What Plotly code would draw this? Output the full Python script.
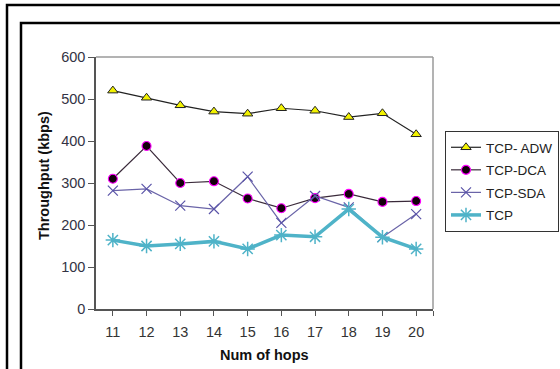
import plotly.graph_objects as go

# Throughput (kbps) versus number of hops
hops = [11, 12, 13, 14, 15, 16, 17, 18, 19, 20]
tcp_adw = [520, 503, 485, 470, 465, 478, 472, 457, 466, 416]
tcp_dca = [310, 388, 300, 304, 263, 240, 264, 274, 255, 257]
tcp_sda = [282, 286, 246, 238, 315, 205, 269, 242, 171, 226]
tcp = [164, 150, 155, 161, 143, 176, 172, 238, 171, 143]
y_ticks = [0, 100, 200, 300, 400, 500, 600]

W, H = 560, 369
L, R, T, B = 96, 127, 57, 60
pw, ph = W - L - R, H - T - B


def px(x):
    return (x - L) / pw


def py(y):
    return (H - B - y) / ph


fig = go.Figure()

fig.add_trace(go.Scatter(
    x=hops, y=tcp_adw, name="TCP- ADW", mode="lines+markers",
    line=dict(color="#222222", width=1.2),
    marker=dict(symbol="triangle-up", size=9, color="#f2f200",
                line=dict(color="#222222", width=1)),
    legendgroup="a",
))
fig.add_trace(go.Scatter(
    x=hops, y=tcp_dca, name="TCP-DCA", mode="lines+markers",
    line=dict(color="#3a2a3a", width=1.2),
    marker=dict(symbol="circle", size=9, color="#14000c",
                line=dict(color="#ff00ff", width=1.1)),
    legendgroup="b",
))
fig.add_trace(go.Scatter(
    x=hops, y=tcp_sda, name="TCP-SDA", mode="lines+markers",
    line=dict(color="#6a64a8", width=1.2),
    marker=dict(symbol="x-thin-open", size=10, color="#5a54a8",
                line=dict(color="#5a54a8", width=1.2)),
    legendgroup="c",
))
fig.add_trace(go.Scatter(
    x=hops, y=tcp, name="TCP", mode="lines+markers",
    line=dict(color="#4fb3c8", width=3.5),
    marker=dict(symbol="asterisk-open", size=12, color="#4fb3c8",
                line=dict(color="#4fb3c8", width=1.5)),
    legendgroup="d",
))

shapes = [
    # outer and inner frames around the figure
    dict(type="rect", xref="paper", yref="paper",
         x0=px(7), x1=px(620), y0=py(5), y1=py(420),
         line=dict(color="black", width=2.5)),
    dict(type="rect", xref="paper", yref="paper",
         x0=px(21), x1=px(620), y0=py(23), y1=py(420),
         line=dict(color="black", width=2.5)),
    # top and right edges of the plot area
    dict(type="line", xref="paper", yref="paper", x0=0, x1=1, y0=1, y1=1,
         line=dict(color="#9a9a9a", width=1.5)),
    dict(type="line", xref="paper", yref="paper", x0=1, x1=1, y0=0, y1=1,
         line=dict(color="#9a9a9a", width=1.5)),
]

annotations = [
    dict(text="<b>Num of hops</b>", xref="paper", yref="paper",
         x=px(264), y=py(355), showarrow=False,
         font=dict(family="Liberation Sans, Arial", size=14.5, color="#111111"),
         xanchor="center", yanchor="middle"),
    dict(text="<b>Throughput (kbps)</b>", xref="paper", yref="paper",
         x=px(44), y=py(176), showarrow=False, textangle=-90,
         font=dict(family="Liberation Sans, Arial", size=14.5, color="#111111"),
         xanchor="center", yanchor="middle"),
]

fig.update_layout(
    width=W, height=H,
    margin=dict(l=L, r=R, t=T, b=B, autoexpand=False),
    paper_bgcolor="white", plot_bgcolor="white",
    font=dict(family="Liberation Sans, Arial", size=14.5, color="#333333"),
    showlegend=True,
    legend=dict(
        x=px(445), y=py(131), xanchor="left", yanchor="top",
        bordercolor="#333333", borderwidth=1, bgcolor="white",
        font=dict(family="Liberation Sans, Arial", size=13.5, color="#222222"),
        traceorder="grouped", tracegroupgap=2, itemwidth=30,
    ),
    xaxis=dict(
        range=[10.5, 20.5], tickvals=hops + [20.5],
        ticktext=[str(h) for h in hops] + [""],
        showgrid=False, zeroline=False,
        showline=True, linecolor="#555555", linewidth=1.5,
        ticks="outside", ticklen=5, tickcolor="#555555", tickwidth=1,
        ticklabelstandoff=4,
        tickfont=dict(size=14.5, color="#333333"),
    ),
    yaxis=dict(
        range=[0, 600], tickvals=y_ticks,
        showgrid=False, zeroline=False,
        showline=True, linecolor="#555555", linewidth=1.5,
        ticks="outside", ticklen=6, tickcolor="#555555", tickwidth=1,
        tickfont=dict(size=14.5, color="#333344"),
    ),
    shapes=shapes,
    annotations=annotations,
)

fig.write_html("out.html")
